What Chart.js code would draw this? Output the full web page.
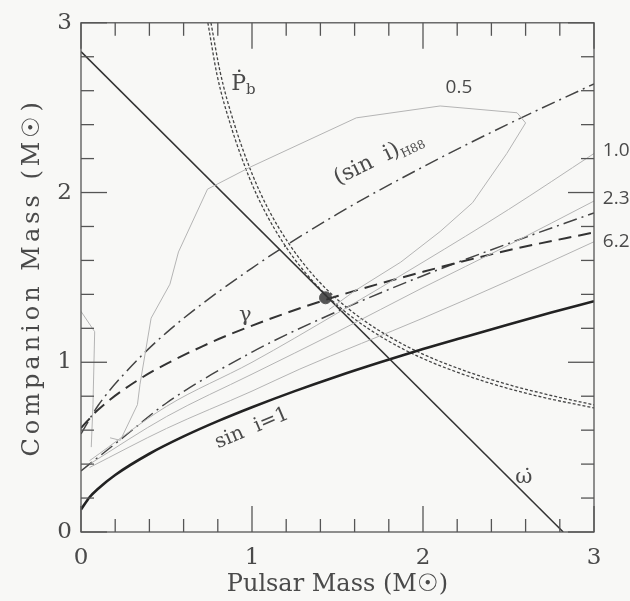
<!DOCTYPE html>
<html>
<head>
<meta charset="utf-8">
<script src="https://cdn.jsdelivr.net/npm/chart.js@4.4.1/dist/chart.umd.min.js"></script>
<style>
  html, body { margin: 0; background: #f8f8f6; }
  canvas { display: block; }
</style>
</head>
<body>
<canvas id="massChart" width="630" height="601"></canvas>
<script>
// --- data (pulsar mass, companion mass) ---
const tickLabels = ['0', '1', '2', '3'];

const omegaDot = [[0, 2.83], [2.82, 0]];

const sinIOne = [[0, 0.132], [0.05, 0.205], [0.1, 0.255], [0.2, 0.336], [0.4, 0.461], [0.6, 0.563],
  [0.8, 0.653], [1.0, 0.735], [1.25, 0.83], [1.5, 0.918], [1.75, 1.0], [2.0, 1.078],
  [2.25, 1.151], [2.5, 1.223], [2.75, 1.293], [3.0, 1.36]];

const pbDotOuter = [[0.76, 3.0], [0.814, 2.709], [0.895, 2.409], [1.001, 2.109], [1.092, 1.909],
  [1.209, 1.709], [1.319, 1.559], [1.433, 1.433], [1.559, 1.319], [1.709, 1.209], [1.909, 1.092],
  [2.109, 1.001], [2.409, 0.895], [2.709, 0.814], [3.0, 0.749]];
const pbDotInner = [[0.742, 3.0], [0.796, 2.691], [0.877, 2.391], [0.983, 2.091], [1.074, 1.891],
  [1.191, 1.691], [1.301, 1.541], [1.415, 1.415], [1.541, 1.301], [1.691, 1.191], [1.891, 1.074],
  [2.091, 0.983], [2.391, 0.877], [2.691, 0.796], [3.0, 0.731]];

const gammaLine = [[0, 0.613], [0.1, 0.72], [0.33, 0.893], [0.71, 1.094], [1.09, 1.25],
  [1.5, 1.39], [2.0, 1.533], [2.5, 1.66], [3.0, 1.765]];

const sinIH88 = [[0, 0.578], [0.1, 0.745], [0.25, 0.929], [0.5, 1.175], [1.0, 1.555],
  [1.5, 1.874], [2.0, 2.151], [2.5, 2.404], [3.0, 2.64]];

const dashDotLow = [[0, 0.36], [0.25, 0.56], [0.5, 0.76], [1.0, 1.06], [1.5, 1.3],
  [2.0, 1.51], [2.5, 1.7], [3.0, 1.88]];

const contour05 = [[0.17, 0.555], [0.23, 0.54], [0.33, 0.75], [0.345, 0.87], [0.41, 1.26],
  [0.52, 1.46], [0.57, 1.65], [0.74, 2.02], [0.99, 2.15], [1.61, 2.44], [2.1, 2.51],
  [2.55, 2.47], [2.6, 2.41], [2.49, 2.23], [2.29, 1.94], [2.1, 1.77], [1.87, 1.59],
  [1.6, 1.42], [1.45, 1.31]];
const contour05Left = [[0.0, 1.3], [0.08, 1.18], [0.07, 0.75], [0.06, 0.5]];
const contour10 = [[0.05, 0.42], [0.5, 0.74], [1.0, 1.0], [1.5, 1.29], [2.0, 1.59], [2.5, 1.9], [3.0, 2.23]];
const contour23 = [[0.05, 0.4], [0.5, 0.68], [1.0, 0.93], [1.5, 1.18], [2.0, 1.44], [2.5, 1.69], [3.0, 1.95]];
const contour62 = [[0.05, 0.38], [0.5, 0.61], [1.0, 0.83], [1.28, 0.96], [2.0, 1.26], [2.5, 1.48], [3.0, 1.71]];

const massPoint = [[1.43, 1.38]];

const pts = arr => arr.map(p => ({ x: p[0], y: p[1] }));

const SERIF = '"DejaVu Serif", "Liberation Serif", serif';
const INK = '#4a4a4a';

function lineSet(label, data, color, width, dash, smooth) {
  return {
    label, data: pts(data), showLine: true, pointRadius: 0,
    borderColor: color, borderWidth: width, borderDash: dash || [],
    cubicInterpolationMode: smooth ? 'monotone' : 'default', tension: 0, fill: false
  };
}

// inward ticks on all four sides plus the frame
const frameTicks = {
  id: 'frameTicks',
  afterDatasetsDraw(chart) {
    const { ctx, chartArea: a, scales: { x, y } } = chart;
    ctx.save();
    ctx.strokeStyle = '#555';
    ctx.lineWidth = 1.3;
    ctx.strokeRect(a.left, a.top, a.right - a.left, a.bottom - a.top);
    const seg = (x1, y1, x2, y2) => { ctx.beginPath(); ctx.moveTo(x1, y1); ctx.lineTo(x2, y2); ctx.stroke(); };
    x.ticks.forEach(t => {
      const major = Math.abs(t.value - Math.round(t.value)) < 1e-6;
      const len = major ? 26 : 13;
      const px = x.getPixelForValue(t.value);
      seg(px, a.bottom, px, a.bottom - len);
      seg(px, a.top, px, a.top + len);
    });
    y.ticks.forEach(t => {
      const major = Math.abs(t.value - Math.round(t.value)) < 1e-6;
      const len = major ? 26 : 13;
      const py = y.getPixelForValue(t.value);
      seg(a.left, py, a.left + len, py);
      seg(a.right, py, a.right - len, py);
    });
    ctx.restore();
  }
};

// curve labels, placed in data units; y title drawn wide like the original
const curveLabels = {
  id: 'curveLabels',
  afterDraw(chart) {
    const { ctx, chartArea: a, scales: { x, y } } = chart;
    const put = (text, vx, vy, font, rot, sub, subFont, subDy) => {
      ctx.save();
      ctx.translate(x.getPixelForValue(vx), y.getPixelForValue(vy));
      ctx.rotate((rot || 0) * Math.PI / 180);
      ctx.fillStyle = INK;
      ctx.font = font;
      ctx.textBaseline = 'middle';
      let w = ctx.measureText(text).width;
      let sw = 0;
      if (sub) { ctx.font = subFont; sw = ctx.measureText(sub).width; ctx.font = font; }
      const x0 = -(w + sw) / 2;
      ctx.textAlign = 'left';
      ctx.fillText(text, x0, 0);
      if (sub) { ctx.font = subFont; ctx.fillText(sub, x0 + w, subDy); }
      ctx.restore();
    };
    put('\u1E56', 0.95, 2.64, '22px ' + SERIF, 0, 'b', '15px ' + SERIF, 6);
    put('0.5', 2.21, 2.62, '19px "Open Sans", sans-serif');
    put('1.0', 3.13, 2.25, '19px "Open Sans", sans-serif');
    put('2.3', 3.13, 1.965, '19px "Open Sans", sans-serif');
    put('6.2', 3.13, 1.71, '19px "Open Sans", sans-serif');
    put('\u03B3', 0.96, 1.275, '21px ' + SERIF);
    put('sin  i=1', 1.0, 0.61, '20px ' + SERIF, -23);
    put('(sin  i)', 1.74, 2.2, '22px ' + SERIF, -26, 'H88', '12px ' + SERIF, 7);
    put('\u03C9\u0307', 2.59, 0.32, '21px ' + SERIF);

    // y axis title
    ctx.save();
    ctx.translate(33, (a.top + a.bottom) / 2);
    ctx.rotate(-Math.PI / 2);
    ctx.fillStyle = INK;
    ctx.font = '24px ' + SERIF;
    ctx.letterSpacing = '4px';
    ctx.textAlign = 'center';
    ctx.textBaseline = 'middle';
    ctx.fillText('Companion Mass (M\u2609)', 0, 0);
    ctx.restore();
  }
};

const tickFont = { family: SERIF, size: 23 };

new Chart(document.getElementById('massChart'), {
  type: 'scatter',
  data: {
    datasets: [
      lineSet('contour 0.5', contour05, '#b4b4b4', 1, null, false),
      lineSet('contour 0.5 left', contour05Left, '#b4b4b4', 1, null, false),
      lineSet('contour 1.0', contour10, '#b4b4b4', 1, null, true),
      lineSet('contour 2.3', contour23, '#b4b4b4', 1, null, true),
      lineSet('contour 6.2', contour62, '#b4b4b4', 1, null, true),
      lineSet('omega dot', omegaDot, '#333', 1.5, null, false),
      lineSet('sin i = 1', sinIOne, '#222', 2.6, null, true),
      lineSet('Pb dot (a)', pbDotOuter, '#444', 1.3, [3, 2], true),
      lineSet('Pb dot (b)', pbDotInner, '#444', 1.3, [3, 2], true),
      lineSet('gamma', gammaLine, '#333', 2, [13, 7], true),
      lineSet('(sin i) H88', sinIH88, '#444', 1.5, [14, 5, 2, 5], true),
      lineSet('dash-dot', dashDotLow, '#444', 1.5, [14, 5, 2, 5], true),
      { label: 'masses', data: pts(massPoint), pointRadius: 6, pointBackgroundColor: '#555',
        pointBorderColor: '#555', showLine: false }
    ]
  },
  options: {
    responsive: false,
    devicePixelRatio: 1,
    animation: false,
    layout: { padding: { left: 0, top: 20, right: 36, bottom: 0 } },
    plugins: { legend: { display: false }, tooltip: { enabled: false } },
    scales: {
      x: {
        type: 'linear', min: 0, max: 3,
        grid: { display: false, drawTicks: false },
        border: { display: false },
        ticks: {
          stepSize: 0.2, autoSkip: false, maxRotation: 0, padding: 12,
          color: INK, font: tickFont,
          callback: v => Math.abs(v - Math.round(v)) < 1e-6 ? tickLabels[Math.round(v)] : ''
        },
        title: { display: true, text: 'Pulsar Mass (M\u2609)', color: INK,
          font: { family: SERIF, size: 24, lineHeight: 1.2 }, padding: { top: 0, bottom: 2 } },
        afterFit: s => { s.height = 69; }
      },
      y: {
        type: 'linear', min: 0, max: 3,
        grid: { display: false, drawTicks: false },
        border: { display: false },
        ticks: {
          stepSize: 0.2, autoSkip: false, padding: 9,
          color: INK, font: tickFont,
          callback: v => Math.abs(v - Math.round(v)) < 1e-6 ? tickLabels[Math.round(v)] : ''
        },
        title: { display: false },
        afterFit: s => { s.width = 81; }
      }
    }
  },
  plugins: [frameTicks, curveLabels]
});
</script>
</body>
</html>
